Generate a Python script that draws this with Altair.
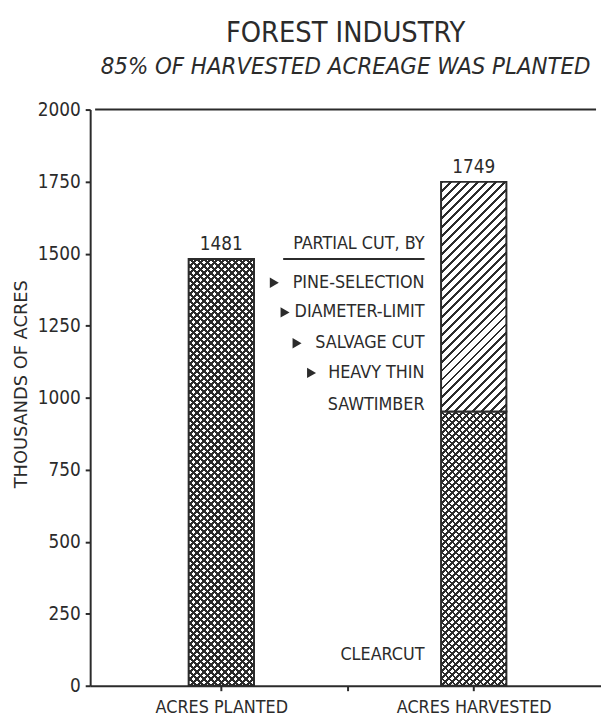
import math
import altair as alt
import pandas as pd

# ---------------- data ----------------
categories = ["ACRES PLANTED", "ACRES HARVESTED"]
segments = ["PLANTED", "CLEARCUT", "PARTIAL CUT"]
segment_category = ["ACRES PLANTED", "ACRES HARVESTED", "ACRES HARVESTED"]
segment_values = [1481, 952, 797]
bar_totals = [1481, 1749]
y_ticks = [0, 250, 500, 750, 1000, 1250, 1500, 1750, 2000]

legend_lines = ["PARTIAL CUT, BY", "PINE-SELECTION", "DIAMETER-LIMIT",
                "SALVAGE CUT", "HEAVY THIN", "SAWTIMBER"]
legend_arrow = [False, True, True, True, True, False]
clearcut_label = ["CLEARCUT"]

# annotation placement (x in category slots, y in thousand acres)
legend_y = [1533, 1399, 1296, 1189, 1086, 976]
legend_x = 2.61
arrow_x = [None, 1.42, 1.505, 1.60, 1.715, None]
clearcut_xy = (2.61, 107)
underline_y = 1481
underline_x = (1.49, 2.61)

# ---------------- layout / style ----------------
W_PLOT, H_PLOT = 516, 582
YMAX = 2000
PX_PER_SLOT = 130.0
XMAX = W_PLOT / PX_PER_SLOT
BAR_PX = 66
NARROW = "DejaVu Sans Condensed, DejaVu Sans, sans-serif"
INK = "#2b2b2b"

pos = {c: 1 + 2 * i for i, c in enumerate(categories)}

rows = []
acc = {c: 0 for c in categories}
for s, c, v in zip(segments, segment_category, segment_values):
    rows.append({"segment": s, "category": c, "pos": pos[c],
                 "start": acc[c], "end": acc[c] + v})
    acc[c] += v
seg_df = pd.DataFrame(rows)

tot_df = pd.DataFrame({"category": categories,
                       "pos": [pos[c] for c in categories],
                       "total": bar_totals})

leg_df = pd.DataFrame({"text": legend_lines, "y": legend_y,
                       "pos": [legend_x] * len(legend_lines)})
arr_df = pd.DataFrame({"pos": [x for x, a in zip(arrow_x, legend_arrow) if a],
                       "y": [y for y, a in zip(legend_y, legend_arrow) if a]})
cc_df = pd.DataFrame({"text": clearcut_label, "pos": [clearcut_xy[0]],
                      "y": [clearcut_xy[1]]})
ul_df = pd.DataFrame({"pos": [underline_x[0]], "pos2": [underline_x[1]],
                      "y": [underline_y]})
top_df = pd.DataFrame({"pos": [0], "pos2": [XMAX], "y": [YMAX]})


def hatch(h_px, period, frac, dark, light, direction):
    W, H = float(BAR_PX), float(h_px)
    a = W * (W + H) / (W * W + H * H)
    b = H * (W + H) / (W * W + H * H)
    N = (W + H) / (period * math.sqrt(2))
    stops = []
    k = 0
    while k / N < 1:
        o0 = k / N
        o1 = min((k + frac) / N, 1)
        o2 = min((k + 1) / N, 1)
        stops += [alt.GradientStop(offset=o0, color=dark),
                  alt.GradientStop(offset=o1, color=dark),
                  alt.GradientStop(offset=o1, color=light),
                  alt.GradientStop(offset=o2, color=light)]
        k += 1
    if direction == "/":
        x1, y1, x2, y2 = 0, 0, a, b
    else:
        x1, y1, x2, y2 = 0, 1, a, 1 - b
    return alt.LinearGradient(gradient="linear", stops=stops,
                              x1=x1, y1=y1, x2=x2, y2=y2)


xscale = alt.Scale(domain=[0, XMAX], nice=False, zero=False)
yscale = alt.Scale(domain=[0, YMAX], nice=False)

x_axis = alt.Axis(values=[1, 2, 3], title=None,
                  labelExpr="datum.value == 1 ? 'ACRES PLANTED' : (datum.value == 3 ? 'ACRES HARVESTED' : '')",
                  labelFont=NARROW, labelFontSize=18, labelColor=INK,
                  labelPadding=8, tickSize=5, tickWidth=2, tickColor=INK,
                  domainColor=INK, domainWidth=2, grid=False, labelFlush=False)
y_axis = alt.Axis(values=y_ticks, format="d", title="THOUSANDS OF ACRES",
                  titleFont="DejaVu Sans", titleFontSize=18,
                  titleFontWeight="normal", titleColor=INK, titlePadding=7,
                  titleY=277,
                  labelFont=NARROW, labelFontSize=19, labelColor=INK,
                  labelPadding=5, tickSize=5, tickWidth=2, tickColor=INK,
                  domainColor=INK, domainWidth=2, grid=False)


def X(field):
    return alt.X(field, scale=xscale, axis=x_axis)


def Y(field):
    return alt.Y(field, scale=yscale, axis=y_axis)


def seg_h(name):
    return segment_values[segments.index(name)] * H_PLOT / YMAX


def seg_layer(name, fill, stroke=True):
    kw = dict(size=BAR_PX, fill=fill, opacity=1)
    if stroke:
        kw.update(stroke=INK, strokeWidth=2)
    else:
        kw.update(strokeWidth=0)
    return alt.Chart(seg_df).transform_filter(
        alt.datum.segment == name
    ).mark_bar(**kw).encode(
        x=X("pos:Q"),
        y=Y("start:Q"),
        y2="end:Q",
    )


WHITE = "#ffffff"
CLEAR = "rgba(255,255,255,0)"

layers = []
for name in ["PLANTED", "CLEARCUT"]:
    layers.append(seg_layer(name, hatch(seg_h(name), 5.0, 0.38, INK, WHITE, "\\"), stroke=False))
    layers.append(seg_layer(name, hatch(seg_h(name), 5.0, 0.38, INK, CLEAR, "/"), stroke=True))
layers.append(seg_layer("PARTIAL CUT", hatch(seg_h("PARTIAL CUT"), 6.4, 0.32, INK, WHITE, "/"), stroke=True))

top_layer = alt.Chart(top_df).mark_rule(color=INK, strokeWidth=2).encode(
    x=X("pos:Q"),
    x2="pos2:Q",
    y=Y("y:Q"),
)

totals_layer = alt.Chart(tot_df).mark_text(
    font=NARROW, fontSize=19, color=INK, baseline="alphabetic", dy=-9
).encode(
    x=X("pos:Q"),
    y=Y("total:Q"),
    text="total:Q",
)

legend_layer = alt.Chart(leg_df).mark_text(
    font=NARROW, fontSize=18, color=INK, align="right", baseline="middle"
).encode(
    x=X("pos:Q"),
    y=Y("y:Q"),
    text="text:N",
)

arrow_layer = alt.Chart(arr_df).mark_point(
    shape="triangle-right", filled=True, color=INK, size=110, opacity=1
).encode(
    x=X("pos:Q"),
    y=Y("y:Q"),
)

ul_layer = alt.Chart(ul_df).mark_rule(color=INK, strokeWidth=2).encode(
    x=X("pos:Q"),
    x2="pos2:Q",
    y=Y("y:Q"),
)

cc_layer = alt.Chart(cc_df).mark_text(
    font=NARROW, fontSize=18, color=INK, align="right", baseline="middle"
).encode(
    x=X("pos:Q"),
    y=Y("y:Q"),
    text="text:N",
)

chart = alt.layer(
    top_layer, *layers, totals_layer, legend_layer, arrow_layer, ul_layer, cc_layer
).properties(
    width=W_PLOT, height=H_PLOT,
    autosize=alt.AutoSizeParams(type="none"),
    padding={"left": 83, "top": 99, "right": 0, "bottom": 30},
    title=alt.TitleParams(
        "FOREST INDUSTRY",
        subtitle=["85% OF HARVESTED ACREAGE WAS PLANTED"],
        font=NARROW, fontSize=29, fontWeight="normal", color=INK,
        subtitleFont=NARROW, subtitleFontSize=24, subtitleFontStyle="italic",
        subtitleColor=INK, subtitlePadding=7, anchor="middle", offset=22,
    ),
).configure(background="white").configure_view(stroke=None)

chart.save("out.html", embed_options={"renderer": "svg", "actions": False})
